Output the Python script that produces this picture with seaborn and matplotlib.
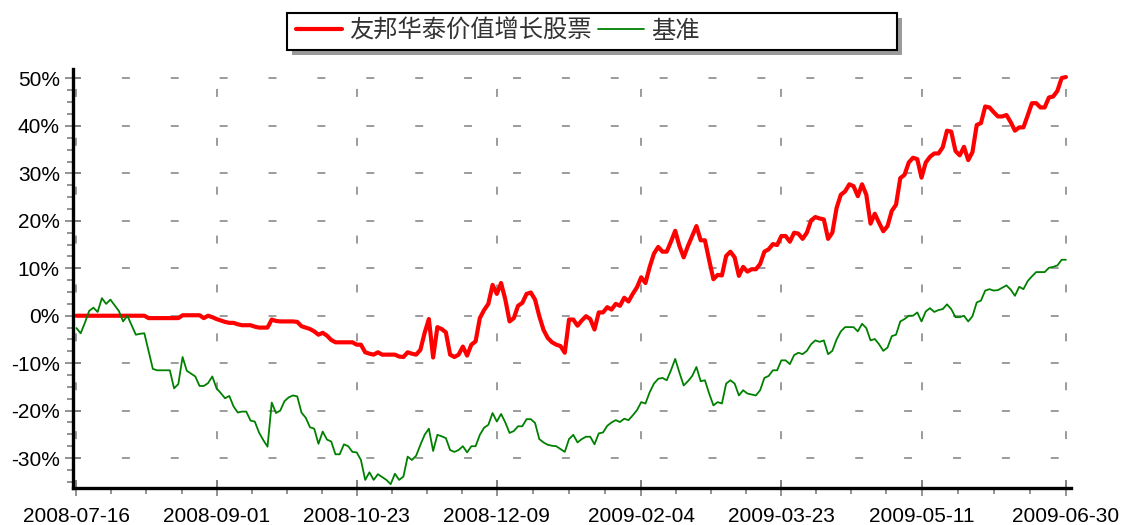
import matplotlib
matplotlib.use("Agg")
import matplotlib.pyplot as plt
from matplotlib.patches import Rectangle
from matplotlib.ticker import FuncFormatter, MultipleLocator
import numpy as np
import pandas as pd
import seaborn as sns

# series names, as in the legend
fund_name = "友邦华泰价值增长股票"
bench_name = "基准"

# x axis: trading-day index of each labelled date
tick_days = [0, 33, 66, 99, 133, 166, 199, 233]
tick_dates = ["2008-07-16", "2008-09-01", "2008-10-23", "2008-12-09",
              "2009-02-04", "2009-03-23", "2009-05-11", "2009-06-30"]

# cumulative return (%), one value per trading day
fund = [
    0, 0, 0, 0, 0, 0, 0, 0, 0, 0,
    0, 0, 0, 0, 0, 0, 0, -0.5, -0.5, -0.5,
    -0.5, -0.5, -0.5, -0.5, -0.5, 0.1, 0.1, 0.1, 0.1, 0.1,
    -0.5, 0.0, -0.3, -0.7, -1.0, -1.3, -1.5, -1.5, -1.8, -2.0,
    -2.0, -2.0, -2.3, -2.5, -2.5, -2.5, -0.8, -1.1, -1.2, -1.2,
    -1.2, -1.2, -1.3, -2.2, -2.5, -2.8, -3.3, -4.0, -3.6, -4.2,
    -5.1, -5.6, -5.6, -5.6, -5.6, -5.6, -6.1, -6.1, -7.7, -8.0,
    -8.2, -7.7, -8.2, -8.2, -8.2, -8.2, -8.6, -8.7, -7.7, -8.0,
    -8.2, -7.2, -3.6, -0.7, -8.8, -2.4, -2.8, -3.5, -8.2, -8.7,
    -8.2, -6.5, -8.4, -6.1, -5.4, -0.5, 1.2, 2.5, 6.5, 4.6,
    6.9, 3.4, -1.2, -0.5, 2.1, 2.7, 4.6, 4.9, 3.4, -0.1,
    -3.0, -4.7, -5.6, -6.1, -6.4, -7.8, -0.8, -0.8, -2.1, -1.0,
    -0.1, -0.7, -2.9, 0.7, 0.7, 1.8, 1.3, 2.5, 2.1, 3.8,
    3.0, 4.6, 6.0, 8.1, 6.9, 10.3, 13.1, 14.5, 13.5, 13.5,
    15.6, 17.9, 14.7, 12.3, 14.7, 16.8, 18.9, 15.9, 15.9, 11.7,
    7.7, 8.6, 8.5, 12.6, 13.5, 12.3, 8.4, 10.3, 9.3, 9.8,
    9.8, 10.9, 13.5, 14.0, 15.1, 14.9, 16.8, 16.8, 15.6, 17.5,
    17.3, 16.2, 17.5, 20.1, 20.8, 20.5, 20.3, 16.2, 17.5, 22.7,
    25.5, 26.2, 27.7, 27.3, 25.2, 27.7, 25.5, 19.4, 21.5, 19.6,
    17.8, 18.9, 22.1, 23.4, 29.0, 29.7, 32.3, 33.3, 33.0, 29.1,
    32.3, 33.5, 34.2, 34.2, 35.5, 39.0, 38.8, 34.7, 33.8, 35.6,
    32.8, 34.5, 40.2, 40.6, 44.1, 43.9, 42.9, 42.0, 42.0, 42.3,
    40.8, 39.0, 39.7, 39.7, 42.2, 44.8, 44.8, 43.9, 43.9, 46.0,
    46.2, 47.4, 50.1, 50.3,
]

bench = [
    -2.6, -3.7, -1.5, 1.0, 1.7, 0.8, 3.7, 2.5, 3.4, 2.2,
    1.0, -1.2, 0.0, -2.0, -4.0, -3.8, -3.7, -7.5, -11.2, -11.5,
    -11.5, -11.5, -11.5, -15.3, -14.4, -8.7, -11.6, -12.2, -12.8, -14.8,
    -14.8, -14.2, -12.8, -15.3, -16.3, -17.4, -16.9, -19.1, -20.4, -20.2,
    -20.2, -22.1, -22.3, -24.6, -26.2, -27.6, -18.3, -20.5, -20.0, -18.0,
    -17.2, -16.8, -17.0, -20.4, -21.5, -23.5, -23.8, -27.0, -24.4, -26.1,
    -26.5, -29.2, -29.2, -27.1, -27.5, -28.7, -28.8, -30.4, -34.6, -33.0,
    -34.6, -33.4, -34.0, -34.6, -35.5, -33.3, -34.6, -33.9, -29.7, -30.4,
    -29.5, -27.2, -25.1, -23.8, -28.5, -25.1, -25.4, -25.8, -28.3, -28.7,
    -28.3, -27.5, -28.8, -27.5, -27.5, -25.1, -23.6, -23.0, -20.5, -22.3,
    -20.7, -22.5, -24.7, -24.3, -23.3, -23.3, -21.8, -21.8, -22.6, -26.0,
    -26.7, -27.2, -27.4, -27.5, -28.1, -28.7, -26.0, -25.1, -26.7, -26.0,
    -25.5, -25.5, -27.1, -24.8, -24.6, -23.2, -22.5, -22.0, -22.4, -21.7,
    -22.0, -21.0, -19.9, -18.2, -18.5, -16.1, -14.3, -13.3, -13.1, -13.6,
    -11.5, -9.1, -12.0, -14.7, -13.8, -12.7, -10.8, -13.8, -13.6, -16.4,
    -18.9, -18.2, -18.5, -14.3, -13.6, -14.3, -16.8, -15.7, -16.4, -16.6,
    -16.8, -15.7, -13.1, -12.7, -11.5, -11.5, -9.4, -9.4, -10.2, -8.3,
    -7.8, -8.1, -7.4, -6.0, -5.2, -5.5, -5.2, -8.1, -7.4, -5.0,
    -3.3, -2.4, -2.4, -2.4, -3.3, -1.7, -2.6, -5.2, -4.9, -6.0,
    -7.4, -6.7, -4.3, -4.0, -1.2, -0.7, 0.0, 0.0, 0.7, -1.2,
    0.9, 1.6, 0.8, 1.2, 1.4, 2.4, 1.4, -0.3, -0.3, 0.0,
    -1.2, -0.1, 2.8, 3.2, 5.3, 5.6, 5.3, 5.4, 5.9, 6.4,
    5.5, 4.2, 6.1, 5.6, 7.3, 8.3, 9.2, 9.2, 9.2, 10.1,
    10.3, 10.6, 11.8, 11.8,
]

sns.set_style("ticks")
plt.rcParams["font.family"] = ["Liberation Sans", "Noto Sans CJK SC", "DejaVu Sans"]

df_fund = pd.DataFrame({"day": np.arange(len(fund)), "ret": fund})
df_bench = pd.DataFrame({"day": np.arange(len(bench)), "ret": bench})

W, H = 1124, 525
fig = plt.figure(figsize=(W / 100, H / 100), dpi=100)
ax = fig.add_axes([73 / W, 1 - 487.5 / H, (1071 - 73) / W, (487.5 - 69) / H])

sns.lineplot(data=df_fund, x="day", y="ret", color="#ff0000", linewidth=3.0, ax=ax)
sns.lineplot(data=df_bench, x="day", y="ret", color="#008000", linewidth=1.3, ax=ax)

ax.set_xlim(-0.8, 234.2)
ax.set_ylim(-36.2, 52)
ax.set_xlabel("")
ax.set_ylabel("")

ax.set_xticks(tick_days)
ax.set_xticklabels(tick_dates)
minor_x = []
for a, b in zip(tick_days[:-1], tick_days[1:]):
    minor_x += [a + (b - a) * k / 4 for k in (1, 2, 3)]
ax.set_xticks(minor_x, minor=True)

ax.yaxis.set_major_locator(MultipleLocator(10))
ax.yaxis.set_minor_locator(MultipleLocator(2.5))
ax.yaxis.set_major_formatter(FuncFormatter(lambda v, p: f"{v:.0f}%"))

ax.tick_params(which="major", direction="inout", length=12, width=1.2,
               color="#808080", labelcolor="black")
ax.tick_params(which="minor", direction="out", length=4, width=1.2, color="#808080")
ax.tick_params(axis="y", which="major", labelsize=15, pad=3.5)
ax.tick_params(axis="x", which="major", labelsize=15, pad=8)

ax.grid(True, which="major", color="#808080", linewidth=1.1,
        linestyle=(0, (5.2, 26.8)))
ax.set_axisbelow(True)

sns.despine(ax=ax)
for side in ("left", "bottom"):
    ax.spines[side].set_linewidth(2.4)
    ax.spines[side].set_color("black")

# legend box with drop shadow
fig.add_artist(Rectangle((292 / W, 1 - 55 / H), 610 / W, 37 / H,
                         transform=fig.transFigure, facecolor="#9a9a9a",
                         edgecolor="none", zorder=-2))
fig.add_artist(Rectangle((287 / W, 1 - 50 / H), 610 / W, 37 / H,
                         transform=fig.transFigure, facecolor="white",
                         edgecolor="black", linewidth=1.5, zorder=-1))

lines = ax.get_lines()
ax.legend(handles=lines[:2], labels=[fund_name, bench_name],
          loc="center left", bbox_to_anchor=(296 / W, 1 - 31 / H),
          bbox_transform=fig.transFigure, ncol=2, frameon=False,
          borderpad=0, borderaxespad=0, handlelength=1.9,
          handletextpad=0.3, columnspacing=0.25,
          prop={"family": ["Noto Sans CJK SC"], "size": 17.5, "weight": "light"},
          labelcolor="#333333")

fig.savefig("out.png", dpi=100)
